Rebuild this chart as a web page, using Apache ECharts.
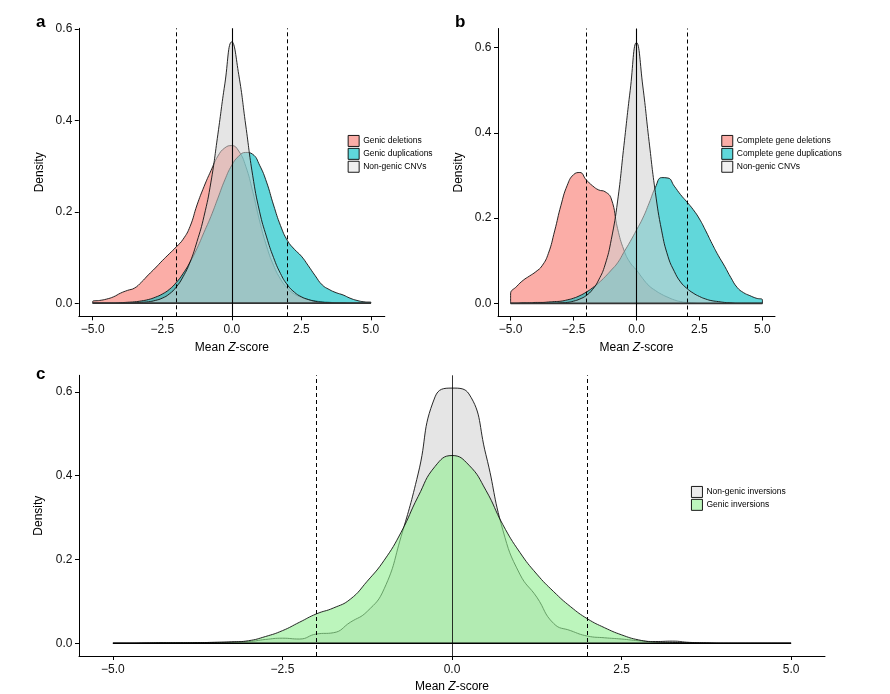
<!DOCTYPE html>
<html><head><meta charset="utf-8">
<script src="https://cdn.jsdelivr.net/npm/echarts@6/dist/echarts.min.js"></script>
<style>html,body{margin:0;padding:0;background:#fff}#c{width:890px;height:694px}</style>
</head><body><div id="c"></div>
<script>
// ---- data ----
const zGrid = [-5,-4.75,-4.5,-4.25,-4,-3.75,-3.5,-3.25,-3,-2.75,-2.5,-2.25,-2,-1.75,-1.5,-1.25,-1,-0.75,-0.5,-0.25,0,0.25,0.5,0.75,1,1.25,1.5,1.75,2,2.25,2.5,2.75,3,3.25,3.5,3.75,4,4.25,4.5,4.75,5];
const xTicks = [-5,-2.5,0,2.5,5];
const yTicks = [0,0.2,0.4,0.6];
const dashedLines = [-2, 2];
const solidLines = [0];
const xSpan = [-5, 5];

// panel a
const aGenicDeletions = [0.004,0.006,0.009,0.014,0.022,0.028,0.033,0.046,0.062,0.077,0.093,0.108,0.123,0.14,0.168,0.215,0.255,0.29,0.322,0.34,0.345,0.333,0.3,0.245,0.18,0.125,0.083,0.053,0.033,0.02,0.013,0.008,0.005,0.003,0.002,0.001,0.001,0,0,0,0];
const aGenicDuplications = [0,0,0,0,0.001,0.002,0.003,0.005,0.008,0.013,0.02,0.03,0.045,0.065,0.09,0.12,0.155,0.19,0.23,0.27,0.302,0.322,0.33,0.326,0.302,0.265,0.215,0.17,0.137,0.118,0.103,0.082,0.06,0.04,0.03,0.023,0.018,0.011,0.006,0.003,0.002];
const aNonGenic = [0,0,0,0,0,0,0.001,0.002,0.003,0.006,0.011,0.02,0.035,0.058,0.09,0.135,0.19,0.265,0.37,0.48,0.572,0.5,0.39,0.28,0.2,0.145,0.1,0.065,0.04,0.024,0.014,0.008,0.004,0.002,0.001,0,0,0,0,0,0];
// panel b
const bCompleteDeletions = [0.022,0.04,0.054,0.064,0.074,0.088,0.117,0.17,0.23,0.277,0.302,0.307,0.29,0.276,0.266,0.262,0.245,0.175,0.125,0.095,0.078,0.058,0.041,0.03,0.021,0.014,0.008,0.004,0.002,0.001,0,0,0,0,0,0,0,0,0,0,0];
const bCompleteDuplications = [0,0,0.001,0.001,0.002,0.002,0.003,0.004,0.005,0.008,0.012,0.018,0.026,0.036,0.048,0.062,0.078,0.095,0.12,0.145,0.172,0.2,0.235,0.272,0.295,0.294,0.275,0.255,0.238,0.22,0.198,0.17,0.14,0.112,0.087,0.06,0.037,0.025,0.018,0.012,0.008];
const bNonGenic = [0,0,0,0,0,0,0,0,0.001,0.002,0.005,0.01,0.018,0.032,0.055,0.09,0.15,0.24,0.37,0.5,0.612,0.51,0.38,0.26,0.17,0.11,0.075,0.05,0.035,0.024,0.016,0.01,0.006,0.004,0.002,0.001,0,0,0,0,0];
// panel c
const cNonGenicInv = [0,0,0.0005,0.001,0.001,0.0015,0.002,0.003,0.004,0.009,0.012,0.01,0.022,0.025,0.05,0.076,0.13,0.255,0.404,0.588,0.609,0.595,0.45,0.27,0.165,0.11,0.047,0.03,0.017,0.013,0.01,0.006,0.004,0.005,0.002,0.001,0,0,0,0,0];
const cGenicInv = [0,0,0.0005,0.001,0.001,0.0015,0.002,0.003,0.006,0.016,0.03,0.05,0.07,0.084,0.105,0.148,0.198,0.265,0.35,0.422,0.448,0.425,0.365,0.283,0.217,0.165,0.123,0.087,0.058,0.037,0.02,0.008,0.003,0.002,0.001,0,0,0,0,0,0];

// ---- styling ----
const FONT = 'Liberation Sans, Arial, Helvetica, sans-serif';
const PINK = '#F8766D', TEAL = '#00BFC4', GRAY = '#D0D0D0', GREEN = '#90EE90';

function densitySeries(name, ys, gi, color, opacity, z) {
  const pts = zGrid.map((x, i) => [x, ys[i]]);
  const data = [[zGrid[0], 0]].concat(pts, [[zGrid[zGrid.length - 1], 0]]);
  return {
    type: 'line', name, xAxisIndex: gi, yAxisIndex: gi, data, z,
    smooth: 0.5, symbol: 'none', silent: true, animation: false,
    lineStyle: { color: '#111', width: 0.9 },
    itemStyle: { color },
    areaStyle: { color, opacity }
  };
}
function refSeries(gi, thin) {
  const ml = [];
  dashedLines.forEach(v => ml.push({ xAxis: v, lineStyle: { type: [4, 3], color: '#000', width: 1 } }));
  solidLines.forEach(v => ml.push({ xAxis: v, lineStyle: { type: 'solid', color: '#000', width: thin ? 0.8 : 1.1 } }));
  return {
    type: 'line', xAxisIndex: gi, yAxisIndex: gi, z: 4.5, silent: true, animation: false,
    data: [[xSpan[0], 0], [xSpan[1], 0]], symbol: 'none',
    lineStyle: { color: thin ? '#000' : '#333', width: thin ? 1.4 : 1.8 },
    markLine: { silent: true, symbol: ['none', 'none'], label: { show: false }, animation: false, data: ml }
  };
}
const fmtX = v => (v < 0 ? '\u2212' : '') + Math.abs(v).toFixed(1);
function xAx(gi) {
  return {
    type: 'value', gridIndex: gi, min: -5.5, max: 5.5,
    name: '{a|Mean }{b|Z}{a|-score}', nameLocation: 'middle', nameGap: 25,
    nameTextStyle: { color: '#000', fontFamily: FONT, fontSize: 12,
      rich: { a: { fontFamily: FONT, fontSize: 12, color: '#000' }, b: { fontFamily: FONT, fontSize: 12, fontStyle: 'italic', color: '#000' } } },
    axisLine: { onZero: false, lineStyle: { color: '#000', width: 1 } },
    axisTick: { customValues: xTicks, length: 4, lineStyle: { color: '#000' } },
    axisLabel: { customValues: xTicks, formatter: fmtX, fontSize: 12, color: '#111', margin: 7.5, fontFamily: FONT },
    splitLine: { show: false }
  };
}
function yAx(gi, min, max) {
  return {
    type: 'value', gridIndex: gi, min, max,
    name: 'Density', nameLocation: 'middle', nameGap: 33, nameRotate: 90,
    nameTextStyle: { color: '#000', fontFamily: FONT, fontSize: 12 },
    axisLine: { onZero: false, lineStyle: { color: '#000', width: 1 } },
    axisTick: { customValues: yTicks, length: 4, lineStyle: { color: '#000' } },
    axisLabel: { customValues: yTicks, formatter: v => v.toFixed(1), fontSize: 12, color: '#111', margin: 6.5, fontFamily: FONT },
    splitLine: { show: false }
  };
}
function legend(items, left, top) {
  return {
    orient: 'vertical', left, top, padding: 0, itemGap: 1, itemWidth: 11, itemHeight: 11,
    selectedMode: false, icon: 'rect',
    textStyle: { fontSize: 8.5, color: '#000', fontFamily: FONT, padding: [0, 0, 0, -1] },
    data: items.map(([name, fill]) => ({ name, icon: 'rect', itemStyle: { color: fill, borderColor: '#000', borderWidth: 0.9, opacity: 1 } }))
  };
}

const option = {
  backgroundColor: '#fff',
  animation: false,
  title: [
    { text: 'a', left: 36, top: 14, padding: 0, textStyle: { fontSize: 17, fontWeight: 'bold', color: '#000', fontFamily: FONT } },
    { text: 'b', left: 455, top: 14, padding: 0, textStyle: { fontSize: 17, fontWeight: 'bold', color: '#000', fontFamily: FONT } },
    { text: 'c', left: 36, top: 366, padding: 0, textStyle: { fontSize: 17, fontWeight: 'bold', color: '#000', fontFamily: FONT } }
  ],
  grid: [
    { left: 78.8, top: 28.3, width: 306, height: 288 },
    { left: 498, top: 28.5, width: 277, height: 288 },
    { left: 79, top: 375.3, width: 746, height: 287.8 }
  ],
  xAxis: [xAx(0), xAx(1), xAx(2)],
  yAxis: [yAx(0, -0.0287, 0.6017), yAx(1, -0.031, 0.645), yAx(2, -0.0305, 0.6395)],
  legend: [
    legend([['Genic deletions', '#FBADA7'], ['Genic duplications', '#5FD8DB'], ['Non-genic CNVs', '#F0F0F0']], 347.7, 135),
    legend([['Complete gene deletions', '#FBADA7'], ['Complete gene duplications', '#5FD8DB'], ['Non-genic CNVs', '#F0F0F0']], 721.3, 135),
    legend([['Non-genic inversions', '#EBEBEB'], ['Genic inversions', '#BDF6BD']], 691, 486)
  ],
  series: [
    densitySeries('Genic deletions', aGenicDeletions, 0, PINK, 0.6, 2),
    densitySeries('Genic duplications', aGenicDuplications, 0, TEAL, 0.62, 3),
    densitySeries('Non-genic CNVs', aNonGenic, 0, GRAY, 0.55, 4),
    refSeries(0, false),
    densitySeries('Complete gene deletions', bCompleteDeletions, 1, PINK, 0.6, 2),
    densitySeries('Complete gene duplications', bCompleteDuplications, 1, TEAL, 0.62, 3),
    densitySeries('Non-genic CNVs', bNonGenic, 1, GRAY, 0.55, 4),
    refSeries(1, false),
    densitySeries('Non-genic inversions', cNonGenicInv, 2, GRAY, 0.55, 2),
    densitySeries('Genic inversions', cGenicInv, 2, GREEN, 0.6, 3),
    refSeries(2, true)
  ]
};
const chart = echarts.init(document.getElementById('c'), null, { renderer: 'canvas' });
chart.setOption(option);
</script>
</body></html>
